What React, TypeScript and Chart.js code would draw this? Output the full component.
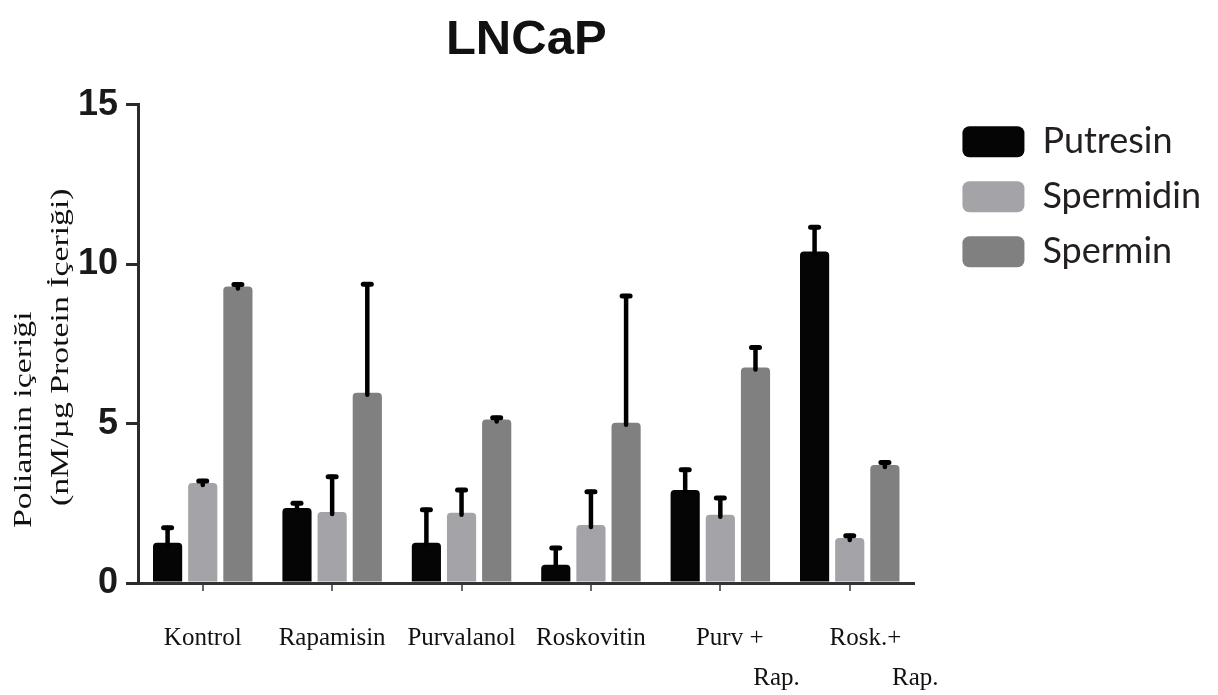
import React, { useEffect, useRef } from 'react';
import { Chart, registerables } from 'chart.js';

Chart.register(...registerables);

// ---- data ----
const chartTitle = 'LNCaP';
const yTitleLines = ['Poliamin içeriği', '(nM/µg Protein İçeriği)'];
const categoryLines: string[][] = [
  ['Kontrol'],
  ['Rapamisin'],
  ['Purvalanol'],
  ['Roskovitin'],
  ['Purv +', 'Rap.'],
  ['Rosk.+', 'Rap.'],
];
const seriesNames = ['Putresin', 'Spermidin', 'Spermin'];
const putresin = [1.26, 2.35, 1.26, 0.57, 2.92, 10.4];
const spermidin = [3.14, 2.23, 2.2, 1.82, 2.14, 1.41];
const spermin = [9.3, 5.97, 5.13, 5.03, 6.76, 3.7];
// upper end of each error bar
const putresinErrTop = [1.73, 2.5, 2.3, 1.1, 3.55, 11.16];
const spermidinErrTop = [3.2, 3.33, 2.92, 2.86, 2.67, 1.48];
const sperminErrTop = [9.36, 9.37, 5.18, 9.0, 7.39, 3.78];
const yMin = 0;
const yMax = 15;
const yStep = 5;

// ---- styling ----
const seriesColors = ['#050505', '#a4a4a8', '#808080'];
// per-line horizontal offsets (in spaces) for the two-line labels
const lineIndentSpaces: number[][] = [[0], [0], [0], [0], [3, 18], [5, 21]];

const errorBarPlugin = {
  id: 'errorBars',
  afterDatasetsDraw(chart: any) {
    const ctx = chart.ctx;
    const yScale = chart.scales.y;
    chart.data.datasets.forEach((ds: any, i: number) => {
      const meta = chart.getDatasetMeta(i);
      meta.data.forEach((bar: any, j: number) => {
        const top = yScale.getPixelForValue(ds.errorTop[j]);
        ctx.save();
        ctx.strokeStyle = '#000';
        ctx.lineCap = 'round';
        ctx.lineWidth = 4.5;
        ctx.beginPath();
        ctx.moveTo(bar.x, bar.y + 2);
        ctx.lineTo(bar.x, top);
        ctx.stroke();
        ctx.lineWidth = 5;
        ctx.beginPath();
        ctx.moveTo(bar.x - 4, top);
        ctx.lineTo(bar.x + 4, top);
        ctx.stroke();
        ctx.restore();
      });
    });
  },
};

const yTitlePlugin = {
  id: 'yTitle',
  afterDraw(chart: any) {
    const ctx = chart.ctx;
    const positions = [
      { x: 31, y: 528 },
      { x: 68, y: 506 },
    ];
    ctx.save();
    ctx.fillStyle = '#111';
    ctx.font = '25px "Liberation Serif", "Times New Roman", serif';
    ctx.textAlign = 'left';
    ctx.textBaseline = 'alphabetic';
    yTitleLines.forEach((line, k) => {
      ctx.save();
      ctx.translate(positions[k].x, positions[k].y);
      ctx.rotate(-Math.PI / 2);
      ctx.scale(1.35, 1);
      ctx.fillText(line, 0, 0);
      ctx.restore();
    });
    ctx.restore();
  },
};

export default function App() {
  const canvasRef = useRef<HTMLCanvasElement | null>(null);

  useEffect(() => {
    if (!canvasRef.current) return;
    const values = [putresin, spermidin, spermin];
    const errs = [putresinErrTop, spermidinErrTop, sperminErrTop];
    const chart = new Chart(canvasRef.current, {
      type: 'bar',
      data: {
        labels: categoryLines as any,
        datasets: seriesNames.map((name, i) => ({
          label: name,
          data: values[i],
          errorTop: errs[i],
          backgroundColor: seriesColors[i],
          borderWidth: 0,
          borderRadius: 4,
          categoryPercentage: 0.815,
          barPercentage: 0.83,
        })) as any,
      },
      options: {
        responsive: true,
        maintainAspectRatio: false,
        animation: false,
        events: [],
        layout: { padding: { left: 70, right: 7, top: 0, bottom: 0 } },
        plugins: {
          title: {
            display: true,
            text: chartTitle,
            fullSize: false,
            color: '#111',
            font: { family: '"Liberation Sans", Arial, sans-serif', size: 49, weight: 'bold' },
            padding: { top: 11, bottom: 35 },
          },
          legend: {
            position: 'right',
            align: 'start',
            fullSize: false,
            maxWidth: 400,
            labels: {
              boxWidth: 62,
              boxHeight: 31,
              useBorderRadius: true,
              borderRadius: 7,
              padding: 19,
              color: '#231f20',
              font: { family: 'Lato, "Open Sans", sans-serif', size: 36 },
            },
          },
          tooltip: { enabled: false },
        },
        scales: {
          x: {
            grid: {
              display: true,
              drawOnChartArea: false,
              offset: false,
              tickLength: 8,
              color: '#666',
              lineWidth: 2,
            },
            border: { display: true, color: '#333', width: 3 },
            ticks: {
              color: '#111',
              font: { family: '"Liberation Serif", "Times New Roman", serif', size: 25, lineHeight: 1.6 },
              padding: 27,
              maxRotation: 0,
              minRotation: 0,
              autoSkip: false,
              callback: (_v: any, i: number) => {
                const lines = categoryLines[i];
                const ind = lineIndentSpaces[i];
                const out = lines.map((l, k) => ' '.repeat(ind[k] || 0) + l);
                return out.length === 1 ? out[0] : out;
              },
            },
            afterFit: (s: any) => {
              s.height = 112;
            },
          },
          y: {
            min: yMin,
            max: yMax,
            grid: {
              display: true,
              drawOnChartArea: false,
              tickLength: 12,
              color: '#2b2b2b',
              lineWidth: 3,
            },
            border: { display: true, color: '#2b2b2b', width: 3 },
            ticks: {
              stepSize: yStep,
              color: '#1a1a1a',
              padding: 8,
              font: { family: '"Liberation Sans", Arial, sans-serif', size: 36, weight: 'bold' },
            },
          },
          spacer: {
            type: 'linear',
            position: 'right',
            display: true,
            grid: { display: false },
            border: { display: false },
            ticks: { display: false },
            afterFit: (s: any) => {
              s.width = 29;
            },
          },
        },
      } as any,
      plugins: [errorBarPlugin, yTitlePlugin],
    });
    return () => chart.destroy();
  }, []);

  return (
    <div style={{ position: 'fixed', left: 0, top: 0, width: 1218, height: 695, background: '#fff' }}>
      <canvas ref={canvasRef} />
    </div>
  );
}
